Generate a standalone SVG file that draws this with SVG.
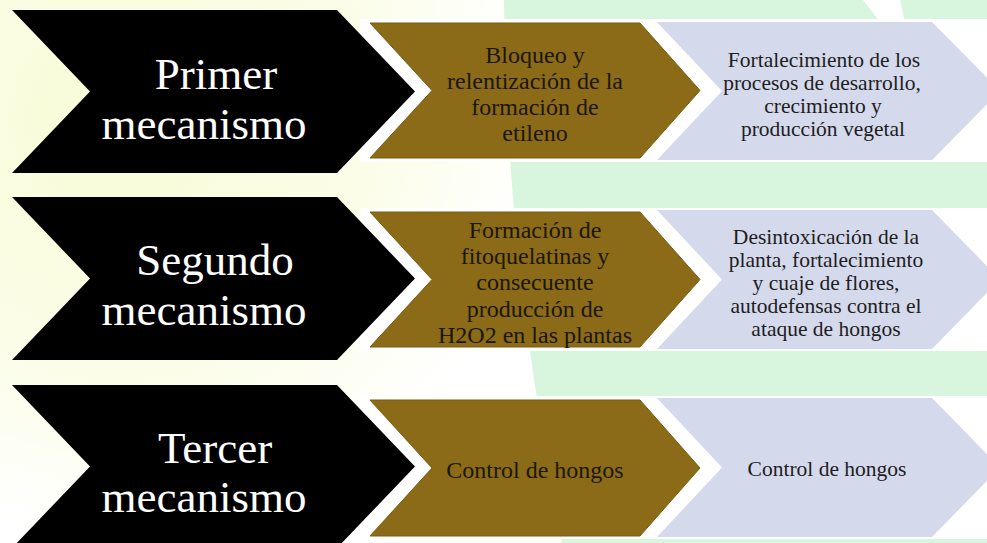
<svg xmlns="http://www.w3.org/2000/svg" width="987" height="543" viewBox="0 0 987 543">
<defs>
<radialGradient id="yel" cx="120" cy="120" r="420" gradientUnits="userSpaceOnUse">
<stop offset="0" stop-color="#f8fcd6"/>
<stop offset="0.6" stop-color="#fbfde8"/>
<stop offset="1" stop-color="#ffffff"/>
</radialGradient>
<style>
.blk{fill:#000000;}
.brn{fill:#8b6b17;stroke:#7a5c10;stroke-width:1;}
.lav{fill:#d5d9ec;}
.band{fill:#ffffff;}
.t1{font-family:"Liberation Serif","Times New Roman",serif;font-size:45px;fill:#ffffff;text-anchor:middle;}
.t2{font-family:"Liberation Serif","Times New Roman",serif;font-size:24px;fill:#1c1606;text-anchor:middle;}
.t3{font-family:"Liberation Serif","Times New Roman",serif;font-size:21.5px;fill:#1e1e1e;text-anchor:middle;}
</style>
</defs>
<g id="background">
<rect x="0" y="0" width="987" height="543" fill="url(#yel)"/>
<path d="M504 0 L987 0 L987 543 L562 543 Q505 250 504 0 Z" fill="#d8f6dd"/>
<polygon points="863,0 900,0 905,22 880,22" fill="#ffffff"/>
<rect class="band" x="360" y="19" width="627" height="143"/>
<rect class="band" x="360" y="208" width="627" height="143"/>
<rect class="band" x="360" y="396" width="627" height="143"/>
</g>
<g id="connectors"></g>
<g id="row1-mechanism">
<polygon class="blk" points="12,10 337,10 415,91.5 337,173 12,173 90,91.5"/>
<text class="t1" x="216" y="89">Primer</text>
<text class="t1" x="204" y="139">mecanismo</text>
</g>
<g id="row1-action">
<polygon class="brn" points="370,23 640,23 700,90.5 640,158 370,158 432,90.5"/>
<text class="t2" x="535" y="63">Bloqueo y</text>
<text class="t2" x="535" y="89">relentización de la</text>
<text class="t2" x="535" y="115">formación de</text>
<text class="t2" x="535" y="141">etileno</text>
</g>
<g id="row1-effect">
<polygon class="lav" points="657,22 932,22 1000,91 932,160 657,160 722,91"/>
<text class="t3" x="824" y="67">Fortalecimiento de los</text>
<text class="t3" x="822" y="90">procesos de desarrollo,</text>
<text class="t3" x="823" y="113">crecimiento y</text>
<text class="t3" x="823" y="136">producción vegetal</text>
</g>
<g id="row2-mechanism">
<polygon class="blk" points="12,197 337,197 415,278.5 337,360 12,360 90,278.5"/>
<text class="t1" x="215" y="275">Segundo</text>
<text class="t1" x="204" y="325">mecanismo</text>
</g>
<g id="row2-action">
<polygon class="brn" points="370,212 640,212 700,279.5 640,347 370,347 432,279.5"/>
<text class="t2" x="535" y="238">Formación de</text>
<text class="t2" x="535" y="264">fitoquelatinas y</text>
<text class="t2" x="535" y="290">consecuente</text>
<text class="t2" x="535" y="317">producción de</text>
<text class="t2" x="535" y="343">H2O2 en las plantas</text>
</g>
<g id="row2-effect">
<polygon class="lav" points="657,210 932,210 1000,279.5 932,349 657,349 722,279.5"/>
<text class="t3" x="826" y="244">Desintoxicación de la</text>
<text class="t3" x="826" y="267">planta, fortalecimiento</text>
<text class="t3" x="826" y="290">y cuaje de flores,</text>
<text class="t3" x="826" y="313">autodefensas contra el</text>
<text class="t3" x="826" y="336">ataque de hongos</text>
</g>
<g id="row3-mechanism">
<polygon class="blk" points="12,385 337,385 415,466.5 337,548 12,548 90,466.5"/>
<text class="t1" x="215" y="463">Tercer</text>
<text class="t1" x="204" y="512">mecanismo</text>
</g>
<g id="row3-action">
<polygon class="brn" points="370,400 640,400 700,468 640,536 370,536 432,468"/>
<text class="t2" x="535" y="478">Control de hongos</text>
</g>
<g id="row3-effect">
<polygon class="lav" points="657,398 932,398 1000,467.5 932,537 657,537 722,467.5"/>
<text class="t3" x="827" y="476">Control de hongos</text>
</g>
</svg>
